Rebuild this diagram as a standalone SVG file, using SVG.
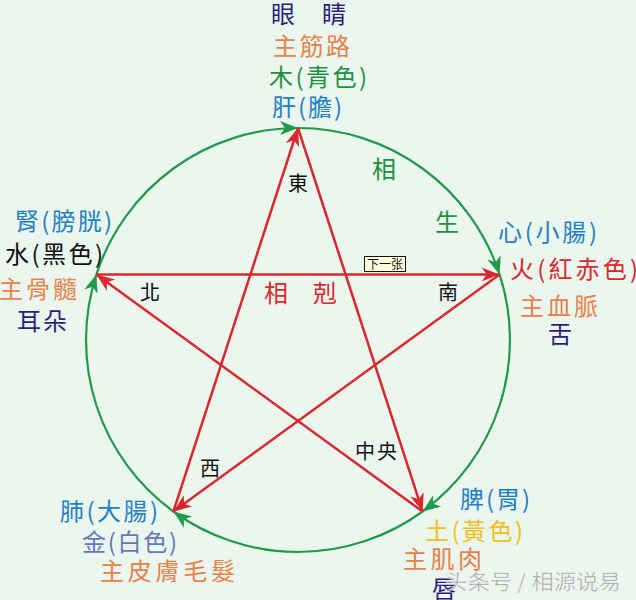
<svg xmlns="http://www.w3.org/2000/svg" width="636" height="600" viewBox="0 0 636 600">
<style>
text{font-family:"Noto Sans CJK TC","Noto Sans CJK SC",sans-serif;}
.t22{font-size:24px;}
.t20{font-size:20px;}
.pur{fill:#2b1f7a;}
.org{fill:#e8804a;}
.grn{fill:#1e9040;}
.blu{fill:#1f7fc4;}
.blk{fill:#111;}
.red{fill:#d8282e;}
.slt{fill:#6878b8;}
.yel{fill:#f0c020;}
.rl{stroke:#d8282e;stroke-width:2.5;fill:none;marker-end:url(#ra);}
.gl{stroke:#1e9a48;stroke-width:2.2;fill:none;marker-end:url(#ga);}
</style>
<defs>
<marker id="ra" markerUnits="userSpaceOnUse" markerWidth="20" markerHeight="16" refX="18" refY="7" orient="auto" viewBox="0 0 20 14">
<path d="M0,0 L18,7 L0,14 L5,7 z" fill="#d8282e"/>
</marker>
<marker id="ga" markerUnits="userSpaceOnUse" markerWidth="20" markerHeight="16" refX="18" refY="7" orient="auto" viewBox="0 0 20 14">
<path d="M0,0 L18,7 L0,14 L5,7 z" fill="#1e9a48"/>
</marker>
</defs>
<rect x="0" y="0" width="636" height="600" fill="#eaf6ee"/>
<g id="connectors">
<path class="gl" d="M298,128 A212,212 0 0 1 499.6,274.5"/>
<path class="gl" d="M499.6,274.5 A212,212 0 0 1 422.6,511.5"/>
<path class="gl" d="M422.6,511.5 A212,212 0 0 1 173.4,511.5"/>
<path class="gl" d="M173.4,511.5 A212,212 0 0 1 96.4,274.5"/>
<path class="gl" d="M96.4,274.5 A212,212 0 0 1 298,128"/>
<line class="rl" x1="298" y1="128" x2="422.6" y2="511.5"/>
<line class="rl" x1="422.6" y1="511.5" x2="96.4" y2="274.5"/>
<line class="rl" x1="96.4" y1="274.5" x2="499.6" y2="274.5"/>
<line class="rl" x1="499.6" y1="274.5" x2="173.4" y2="511.5"/>
<line class="rl" x1="173.4" y1="511.5" x2="298" y2="128"/>
</g>
<g id="wood">
<text class="t22 pur" x="271" y="23" font-size="22">眼</text>
<text class="t22 pur" x="322" y="23" font-size="22">睛</text>
<text class="t22 org" x="273" y="55" textLength="77" lengthAdjust="spacing">主筋路</text>
<text class="t22 grn" x="269" y="86" textLength="98" lengthAdjust="spacing">木(青色)</text>
<text class="t22 blu" x="272" y="116" textLength="70" lengthAdjust="spacing">肝(膽)</text>
</g>
<g id="water">
<text class="t22 blu" x="15" y="230" textLength="97" lengthAdjust="spacing">腎(膀胱)</text>
<text class="t22 blk" x="5" y="263" textLength="98" lengthAdjust="spacing">水(黑色)</text>
<text class="t22 org" x="-1" y="298" textLength="78" lengthAdjust="spacing">主骨髓</text>
<text class="t22 pur" x="17" y="330" textLength="50" lengthAdjust="spacing">耳朵</text>
</g>
<g id="fire">
<text class="t22 blu" x="498" y="241" textLength="99" lengthAdjust="spacing">心(小腸)</text>
<text class="t22 red" x="510" y="278" textLength="128" lengthAdjust="spacing">火(紅赤色)</text>
<text class="t22 org" x="520" y="315" textLength="78" lengthAdjust="spacing">主血脈</text>
<text class="t22 pur" x="548" y="343">舌</text>
</g>
<g id="metal">
<text class="t22 blu" x="60" y="520" textLength="98" lengthAdjust="spacing">肺(大腸)</text>
<text class="t22 slt" x="82" y="551" textLength="95" lengthAdjust="spacing">金(白色)</text>
<text class="t22 org" x="100" y="580" textLength="135" lengthAdjust="spacing">主皮膚毛髮</text>
</g>
<g id="earth">
<text class="t22 blu" x="460" y="508" textLength="70" lengthAdjust="spacing">脾(胃)</text>
<text class="t22 yel" x="425" y="540" textLength="98" lengthAdjust="spacing">土(黃色)</text>
<text class="t22 org" x="403" y="568" textLength="79" lengthAdjust="spacing">主肌肉</text>
<text class="t22 pur" x="432" y="598">唇</text>
</g>
<g id="labels">
<text class="t20 blk" x="288" y="191">東</text>
<text class="t22 grn" x="372" y="178">相</text>
<text class="t22 grn" x="435" y="231">生</text>
<text class="t20 blk" x="140" y="300" font-size="19">北</text>
<text class="t20 blk" x="438" y="300" font-size="19">南</text>
<text class="t22 red" x="264" y="302">相</text>
<text class="t22 red" x="313" y="302">剋</text>
<text class="t20 blk" x="200" y="476" font-size="19">西</text>
<text class="t20 blk" x="355" y="459" textLength="42" lengthAdjust="spacing" font-size="19">中央</text>
</g>
<g id="next">
<rect x="364.5" y="256.5" width="41" height="15" fill="#ffffe0" stroke="#111" stroke-width="1"/>
<text x="367" y="269" font-size="12" fill="#111" textLength="36" lengthAdjust="spacing">下一张</text>
</g>
<g id="watermark">
<text x="445" y="589" font-size="21" fill="#9a9a9a" fill-opacity="0.85" stroke="#ffffff" stroke-width="0.6" stroke-opacity="0.6" textLength="176" lengthAdjust="spacingAndGlyphs">头条号 / 相源说易</text>
</g>
</svg>
